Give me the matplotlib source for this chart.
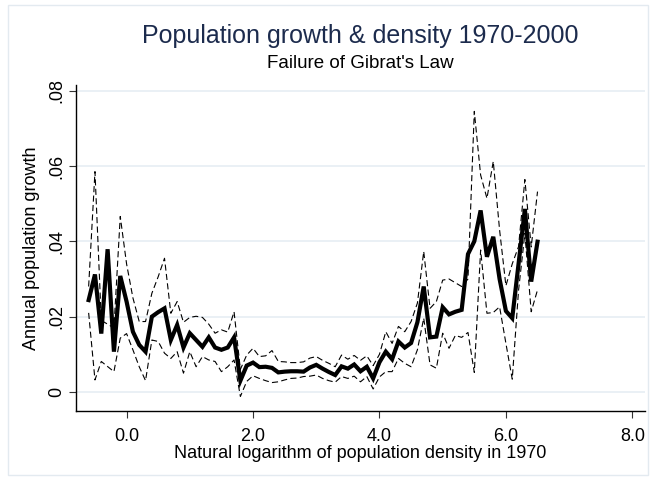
import numpy as np
import matplotlib.pyplot as plt
from matplotlib.patches import Rectangle

plt.rcParams['font.family'] = ['Liberation Sans', 'DejaVu Sans']

# log density bins (1970)
density = [-0.6, -0.5, -0.4, -0.3, -0.2, -0.1, 0.0, 0.1, 0.2, 0.3,
           0.4, 0.5, 0.6, 0.7, 0.8, 0.9, 1.0, 1.1, 1.2, 1.3,
           1.4, 1.5, 1.6, 1.7, 1.8, 1.9, 2.0, 2.1, 2.2, 2.3,
           2.4, 2.5, 2.6, 2.7, 2.8, 2.9, 3.0, 3.1, 3.2, 3.3,
           3.4, 3.5, 3.6, 3.7, 3.8, 3.9, 4.0, 4.1, 4.2, 4.3,
           4.4, 4.5, 4.6, 4.7, 4.8, 4.9, 5.0, 5.1, 5.2, 5.3,
           5.4, 5.5, 5.6, 5.7, 5.8, 5.9, 6.0, 6.1, 6.2, 6.3,
           6.4, 6.5]

growth = [0.0244, 0.0312, 0.0155, 0.0379, 0.0107, 0.0308, 0.0240, 0.0160, 0.0125, 0.0107,
          0.0200, 0.0212, 0.0222, 0.0138, 0.0178, 0.0118, 0.0156, 0.0138, 0.0120, 0.0145,
          0.0118, 0.0112, 0.0118, 0.0145, 0.0030, 0.0070, 0.0078, 0.0066, 0.0067, 0.0064,
          0.0052, 0.0054, 0.0055, 0.0055, 0.0054, 0.0065, 0.0072, 0.0062, 0.0053, 0.0045,
          0.0068, 0.0062, 0.0073, 0.0055, 0.0067, 0.0036, 0.0079, 0.0107, 0.0087, 0.0134,
          0.0118, 0.0130, 0.0185, 0.0280, 0.0145, 0.0147, 0.0225, 0.0206, 0.0213, 0.0218,
          0.0366, 0.0400, 0.0482, 0.0359, 0.0412, 0.0300, 0.0215, 0.0196, 0.0340, 0.0486,
          0.0293, 0.0399]

upper = [0.0280, 0.0585, 0.0190, np.nan, 0.0170, 0.0466, 0.0340, 0.0250, 0.0187, 0.0187,
         0.0262, 0.0306, 0.0355, 0.0209, 0.0240, 0.0185, 0.0198, 0.0201, 0.0198, 0.0180,
         0.0156, 0.0165, 0.0159, 0.0213, 0.0060, 0.0098, 0.0116, 0.0094, 0.0096, 0.0110,
         0.0081, 0.0080, 0.0078, 0.0078, 0.0080, 0.0090, 0.0094, 0.0084, 0.0076, 0.0067,
         0.0098, 0.0087, 0.0097, 0.0084, 0.0096, 0.0070, 0.0100, 0.0160, 0.0129, 0.0174,
         0.0160, 0.0187, 0.0236, 0.0373, 0.0222, 0.0240, 0.0297, 0.0300, 0.0290, 0.0280,
         0.0300, 0.0745, 0.0576, 0.0514, 0.0612, 0.0430, 0.0282, 0.0340, 0.0386, 0.0564,
         0.0385, 0.0532]

lower = [0.0210, 0.0032, 0.0081, np.nan, 0.0054, 0.0143, 0.0155, 0.0112, 0.0067, 0.0030,
         0.0138, 0.0134, 0.0103, 0.0089, 0.0107, 0.0050, 0.0107, 0.0067, 0.0094, 0.0085,
         0.0081, 0.0054, 0.0067, 0.0085, -0.0012, 0.0028, 0.0043, 0.0036, 0.0030, 0.0025,
         0.0027, 0.0032, 0.0036, 0.0037, 0.0041, 0.0042, 0.0045, 0.0036, 0.0030, 0.0026,
         0.0041, 0.0036, 0.0042, 0.0027, 0.0041, 0.0008, 0.0040, 0.0054, 0.0054, 0.0089,
         0.0076, 0.0067, 0.0112, 0.0196, 0.0072, 0.0063, 0.0156, 0.0116, 0.0150, 0.0145,
         0.0158, 0.0052, 0.0377, 0.0209, 0.0211, 0.0226, 0.0129, 0.0034, 0.0270, 0.0421,
         0.0213, 0.0271]

x = np.array(density)
up = np.array(upper)
lo = np.array(lower)

fig = plt.figure(figsize=(6.56, 4.83), dpi=100)
W, H = 656, 483
# light outer frame like the stata graph region
fig.patches.append(Rectangle((8 / W, 1 - 475 / H), 640 / W, 470 / H, transform=fig.transFigure,
                             fill=False, ec='#e3eaf0', lw=1))

ax = fig.add_axes([76 / W, 1 - 411 / H, (645 - 76) / W, (411 - 85) / H])

ok = ~np.isnan(up)
ax.plot(x[ok], up[ok], color='black', lw=0.8, dashes=(5.5, 3))
ok = ~np.isnan(lo)
ax.plot(x[ok], lo[ok], color='black', lw=0.8, dashes=(5.5, 3))
ax.plot(x, growth, color='black', lw=3.0, solid_joinstyle='miter')

ax.set_xlim(-0.8, 8.2)
ax.set_ylim(-0.00505, 0.0815)

ax.set_xticks([0, 2, 4, 6, 8])
ax.set_xticklabels(['0.0', '2.0', '4.0', '6.0', '8.0'])
ax.set_yticks([0, 0.02, 0.04, 0.06, 0.08])
ax.set_yticklabels(['0', '.02', '.04', '.06', '.08'], rotation=90, va='center')
ax.tick_params(labelsize=13, length=5, width=0.8, color='#333333')
ax.tick_params(axis='x', pad=7)
ax.tick_params(axis='y', pad=3)

ax.yaxis.grid(True, color='#e6edf3', lw=1.2)
ax.set_axisbelow(True)
for s in ['top', 'right']:
    ax.spines[s].set_visible(False)
for s in ['left', 'bottom']:
    ax.spines[s].set_linewidth(1.0)

ax.set_xlabel('Natural logarithm of population density in 1970', fontsize=13, labelpad=0)
ax.set_ylabel('Annual population growth', fontsize=13, labelpad=6)

cx = (76 + 645) / 2 / W
fig.text(cx, 1 - 36 / H, 'Population growth & density 1970-2000', ha='center', va='center',
         fontsize=18, color='#1c2b4d')
fig.text(cx, 1 - 63 / H, "Failure of Gibrat's Law", ha='center', va='center',
         fontsize=13.5, color='black')

fig.savefig('out.png', dpi=100, facecolor='white')
